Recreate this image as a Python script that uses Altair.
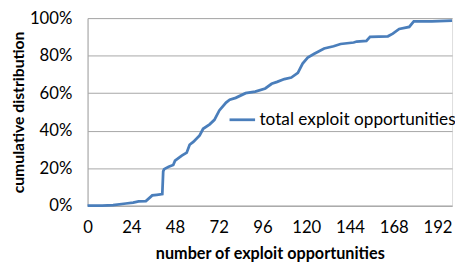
import altair as alt
import pandas as pd

opportunities = [0, 8, 14, 21, 25, 28, 32, 35.5, 38, 41, 41.5, 42, 44.5, 47, 48, 51.7, 54.4, 56, 58,
                 61.5, 63.4, 67, 69.6, 72.3, 76, 78, 81.3, 86.7, 92, 97.5, 101, 104, 108, 111.8,
                 115.4, 118, 120.8, 124.4, 129.8, 135, 138.8, 146, 147.7, 153, 155, 164.8, 167.5,
                 171, 176.5, 179, 189, 200]
cumulative = [0, 0.1, 0.3, 1.2, 1.7, 2.3, 2.5, 5.5, 5.8, 6.2, 18.3, 19.5, 20.8, 21.7, 24, 26.7,
              28.3, 32.5, 34, 37.5, 41, 43.4, 45.8, 50.8, 55, 56.5, 57.5, 60, 60.8, 62.5, 65, 66,
              67.5, 68.3, 70.8, 75.8, 79, 81, 83.8, 85, 86.2, 87, 87.5, 87.8, 90, 90.3, 91.7, 94.2,
              95.3, 98.3, 98.3, 98.7]
x_ticks = [0, 24, 48, 72, 96, 120, 144, 168, 192]
y_ticks = [0, 0.2, 0.4, 0.6, 0.8, 1.0]
series_name = "total exploit opportunities"

df = pd.DataFrame({
    "x": opportunities,
    "y": [v / 100 for v in cumulative],
    "series": [series_name] * len(opportunities),
})

FONT = "Lato"
GRID = "#a6a6a6"

chart = alt.Chart(df).mark_line(strokeWidth=2.8).encode(
    x=alt.X("x:Q", scale=alt.Scale(domain=[0, 200], nice=False, zero=True),
            axis=alt.Axis(values=x_ticks, grid=False, title="number of exploit opportunities",
                          tickSize=0, labelPadding=14, titlePadding=11, labelFontSize=17,
                          titleFontSize=16.5, titleFontWeight="bold", domainColor=GRID,
                          labelColor="#000000", titleColor="#000000", labelFlush=False)),
    y=alt.Y("y:Q", scale=alt.Scale(domain=[0, 1], nice=False),
            axis=alt.Axis(values=y_ticks, format=".0%", grid=True, gridColor=GRID,
                          title="cumulative distribution", tickSize=0, labelPadding=16,
                          titlePadding=3, labelFontSize=17, titleFontSize=16,
                          titleFontWeight="bold", domainColor=GRID, labelColor="#000000",
                          titleColor="#000000")),
    color=alt.Color("series:N", scale=alt.Scale(range=["#4a7ebb"]),
                    legend=alt.Legend(title=None, orient="none", legendX=143, legendY=89,
                                      symbolType="stroke", symbolSize=676, symbolStrokeWidth=2.8,
                                      labelFontSize=17.5, labelOffset=3, labelColor="#000000",
                                      labelLimit=400)),
).properties(
    width=371, height=191,
    autosize=alt.AutoSizeParams(type="none"),
    padding={"left": 81, "top": 8, "right": 3, "bottom": 56},
).configure_view(
    stroke=None
).configure(
    font=FONT
)

chart.save("out.html", embed_options={"renderer": "svg", "actions": False})
